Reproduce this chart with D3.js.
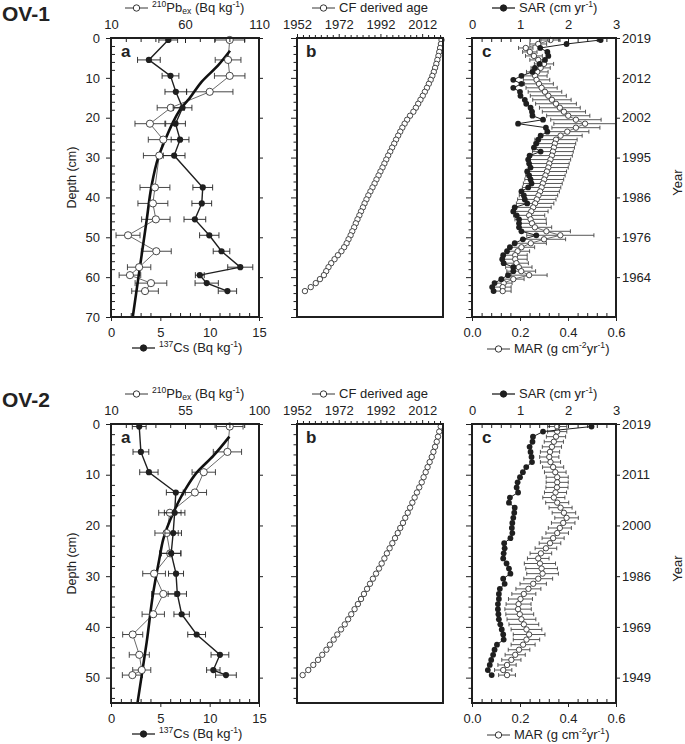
<!DOCTYPE html>
<html><head><meta charset="utf-8">
<script src="https://cdn.jsdelivr.net/npm/d3@7"></script>
<style>
body{margin:0;background:#fff;}
svg text{font-family:"Liberation Sans",Arial,sans-serif;}
</style></head><body>
<svg id="chart" width="685" height="744"></svg>
<script>
// ================= DATA =================
// ---- OV-1, panel a (core slices measured for radionuclides) ----
const ov1CoreDepth = [0.5,5.5,9.5,13.5,17.5,21.5,25.5,29.5,37.5,41.5,45.5,49.5,53.5,57.5,59.5,61.5,63.5];
const ov1Cs    = [5.8,3.84,6.03,6.57,7.25,6.54,7.0,6.4,9.3,9.2,8.5,9.96,11.2,13.1,9.0,9.7,11.8];
const ov1CsErr = [0.95,1.15,0.85,1.1,0.95,1.0,0.9,1.1,1.0,1.0,1.1,0.98,0.84,1.27,0.45,1.18,0.93];
const ov1Pb    = [90.2,89.1,90.2,76.7,50.4,36.3,45.3,42.6,39.7,38.3,40.3,21.5,40.6,29.0,22.8,37.0,33.0];
const ov1PbErr = [10.1,8.7,10.3,15.7,9.2,10.1,10.1,10.7,10.1,10.1,9.6,8.1,10.1,7.9,7.3,10.7,9.0];
const ov1FitDepth = [3.2,6.8,11,15.2,17.4,19.3,21.3,25.3,30,37.3,45.7,53.2,61.2,70];
const ov1FitPb    = [90.4,82.5,71.2,62.9,57.8,54.5,51.7,46.9,41.9,37.3,34.1,31.2,28.1,24.7];
// ---- OV-1, panels b & c (1-cm slices) ----
const ov1SliceDepth = [0.5,1.5,2.5,3.5,4.5,5.5,6.5,7.5,8.5,9.5,10.5,11.5,12.5,13.5,14.5,15.5,16.5,17.5,18.5,19.5,
  20.5,21.5,22.5,23.5,24.5,25.5,26.5,27.5,28.5,29.5,30.5,31.5,32.5,33.5,34.5,35.5,36.5,37.5,38.5,39.5,
  40.5,41.5,42.5,43.5,44.5,45.5,46.5,47.5,48.5,49.5,50.5,51.5,52.5,53.5,54.5,55.5,56.5,57.5,58.5,59.5,
  60.5,61.5,62.5,63.5];
const ov1Age = [2021.3,2021.0,2020.6,2020.2,2019.8,2019.3,2018.8,2018.2,2017.6,2016.9,
  2016.1,2015.2,2014.3,2013.3,2012.3,2011.2,2010.1,2009.0,2007.8,2006.2,
  2004.8,2003.6,2002.5,2001.5,2000.5,1999.5,1998.6,1997.6,1996.7,1995.7,
  1994.8,1993.9,1993.0,1992.0,1991.1,1990.1,1989.2,1988.2,1987.2,1986.2,
  1985.3,1984.4,1983.6,1982.7,1981.9,1981.0,1980.2,1979.4,1978.5,1977.7,
  1976.7,1975.8,1974.6,1973.3,1971.6,1970.0,1968.4,1967.1,1966.0,1964.9,
  1963.0,1961.0,1958.6,1955.8];
const ov1Sar = [2.68,1.97,1.42,1.57,1.59,1.52,1.41,1.31,1.26,1.03,
  0.86,1.03,0.86,1.00,1.01,1.10,1.13,1.22,1.25,1.26,
  1.48,0.96,1.54,1.57,1.43,1.38,1.34,1.29,1.43,1.20,
  1.17,1.19,1.22,1.15,1.19,1.22,1.24,1.17,1.03,1.08,
  1.10,1.15,0.89,0.86,0.93,0.98,0.98,0.98,1.03,1.34,
  1.06,0.89,0.79,0.73,0.65,0.63,0.66,0.86,0.86,0.75,
  0.61,0.47,0.42,0.45];
const ov1Mar = [0.327,0.276,0.224,0.241,0.258,0.276,0.300,0.286,0.272,0.263,
  0.269,0.279,0.290,0.304,0.318,0.333,0.350,0.366,0.383,0.401,
  0.433,0.471,0.433,0.397,0.369,0.350,0.345,0.341,0.337,0.333,
  0.327,0.322,0.318,0.312,0.306,0.301,0.295,0.290,0.284,0.277,
  0.270,0.263,0.255,0.247,0.238,0.244,0.250,0.262,0.310,0.368,
  0.300,0.245,0.206,0.190,0.180,0.180,0.185,0.195,0.205,0.238,
  0.172,0.132,0.128,0.128];
const ov1MarErr = [0.04,0.035,0.03,0.03,0.035,0.035,0.04,0.04,0.045,0.05,
  0.055,0.06,0.065,0.07,0.075,0.08,0.085,0.085,0.09,0.09,
  0.105,0.13,0.1,0.09,0.09,0.088,0.087,0.086,0.085,0.085,
  0.084,0.083,0.083,0.082,0.082,0.081,0.081,0.08,0.08,0.08,
  0.08,0.078,0.075,0.07,0.065,0.065,0.06,0.07,0.1,0.14,
  0.09,0.065,0.055,0.05,0.05,0.05,0.05,0.055,0.06,0.075,
  0.045,0.035,0.035,0.035];
const ov1YearLabels = ["2019","2012","2002","1995","1986","1976","1964"];

// ---- OV-2, panel a ----
const ov2CoreDepth = [0.5,5.5,9.5,13.5,17.5,21.5,25.5,29.5,33.5,37.5,41.5,45.5,48.5,49.5];
const ov2Cs    = [2.86,3.03,3.84,6.57,6.45,6.3,6.1,6.59,6.72,7.16,8.68,11.04,10.37,11.65];
const ov2CsErr = [0.7,0.8,0.93,0.96,1.04,0.84,0.98,0.76,0.93,0.78,0.9,0.9,0.68,1.05];
const ov2Pb    = [82.2,80.8,66.4,61.0,45.8,43.8,46.0,36.2,41.8,35.7,23.2,27.2,28.7,23.0];
const ov2PbErr = [8.1,8.6,7.1,7.1,6.8,7.1,6.5,6.9,7.1,6.8,6.1,6.1,5.5,6.1];
const ov2FitDepth = [2.5,6.3,9.6,12.9,17.5,22.7,26.6,33.2,43,49.5,55];
const ov2FitPb    = [82,72.2,62.1,55.2,47.9,41.8,39.4,35.7,31.7,28.7,26.1];
// ---- OV-2, panels b & c ----
const ov2SliceDepth = [0.5,1.5,2.5,3.5,4.5,5.5,6.5,7.5,8.5,9.5,10.5,11.5,12.5,13.5,14.5,15.5,16.5,17.5,18.5,19.5,
  20.5,21.5,22.5,23.5,24.5,25.5,26.5,27.5,28.5,29.5,30.5,31.5,32.5,33.5,34.5,35.5,36.5,37.5,38.5,39.5,
  40.5,41.5,42.5,43.5,44.5,45.5,46.5,47.5,48.5,49.5];
const ov2Age = [2020.9,2020.2,2019.6,2019.0,2018.2,2017.4,2016.6,2015.6,2014.6,2013.7,
  2012.7,2011.8,2010.6,2009.5,2008.4,2007.3,2006.2,2005.1,2003.9,2002.8,
  2001.5,2000.3,1999.0,1997.7,1996.4,1995.1,1993.9,1992.6,1991.3,1989.9,
  1988.4,1987.0,1985.6,1984.1,1982.7,1981.2,1979.6,1978.0,1976.5,1974.9,
  1973.1,1971.3,1969.6,1967.8,1966.1,1964.1,1962.1,1959.8,1957.4,1954.7];
const ov2Sar = [2.49,1.48,1.27,1.26,1.20,1.22,1.24,1.25,1.13,1.06,
  1.00,0.95,0.93,0.96,0.79,0.77,0.89,0.88,0.86,0.84,
  0.83,0.84,0.80,0.67,0.68,0.66,0.65,0.72,0.77,0.80,
  0.65,0.68,0.58,0.56,0.56,0.54,0.54,0.55,0.56,0.59,
  0.62,0.65,0.66,0.52,0.47,0.44,0.40,0.37,0.33,0.41];
const ov2Mar = [0.355,0.355,0.350,0.341,0.333,0.325,0.322,0.327,0.338,0.347,
  0.355,0.355,0.354,0.348,0.341,0.355,0.369,0.383,0.394,0.380,
  0.366,0.355,0.338,0.325,0.308,0.287,0.276,0.283,0.290,0.294,
  0.276,0.255,0.235,0.216,0.202,0.194,0.192,0.199,0.206,0.216,
  0.227,0.238,0.227,0.213,0.196,0.180,0.164,0.146,0.130,0.146];
const ov2MarErr = [0.04,0.04,0.04,0.04,0.04,0.04,0.04,0.042,0.044,0.045,
  0.046,0.046,0.046,0.046,0.046,0.048,0.048,0.049,0.049,0.049,
  0.048,0.047,0.046,0.045,0.045,0.045,0.045,0.065,0.066,0.066,
  0.06,0.055,0.052,0.05,0.05,0.052,0.055,0.058,0.06,0.062,
  0.064,0.066,0.055,0.05,0.045,0.042,0.04,0.038,0.036,0.035];
const ov2YearLabels = ["2019","2011","2000","1986","1969","1949"];

// ---- axis tick values ----
const csMajor = [0,5,10,15];
const ov1PbMajor = [10,60,110];
const ov2PbMajor = [10,55,100];
const ageMajor = [1952,1972,1992,2012];
const sarMajor = [0,1,2,3];
const marMajor = [0,0.2,0.4,0.6];

// ================= DRAWING =================
const svg = d3.select("#chart");
const INK = "#1f1f1f";
const FONT = '"Liberation Sans", Arial, sans-serif';
const PA = {x0:111, x1:259}, PB = {x0:297, x1:443}, PC = {x0:472, x1:616};

const sites = [
  {name:"OV-1", off:0, maxDepth:70, pbDomain:[10,110], pbMajor:ov1PbMajor, pbStep:10,
   coreDepth:ov1CoreDepth, cs:ov1Cs, csErr:ov1CsErr, pb:ov1Pb, pbErr:ov1PbErr,
   fitDepth:ov1FitDepth, fitPb:ov1FitPb, sliceDepth:ov1SliceDepth, age:ov1Age,
   sar:ov1Sar, mar:ov1Mar, marErr:ov1MarErr, years:ov1YearLabels},
  {name:"OV-2", off:386, maxDepth:55, pbDomain:[10,100], pbMajor:ov2PbMajor, pbStep:9,
   coreDepth:ov2CoreDepth, cs:ov2Cs, csErr:ov2CsErr, pb:ov2Pb, pbErr:ov2PbErr,
   fitDepth:ov2FitDepth, fitPb:ov2FitPb, sliceDepth:ov2SliceDepth, age:ov2Age,
   sar:ov2Sar, mar:ov2Mar, marErr:ov2MarErr, years:ov2YearLabels}
];

function axis(parent, axisFn, scale, tr, values, size, fmt, pad, fs) {
  const ax = axisFn(scale).tickValues(values).tickSizeInner(size).tickSizeOuter(0).tickPadding(pad || 3);
  ax.tickFormat(fmt || (() => ""));
  const g = parent.append("g").attr("transform", tr).call(ax);
  g.select(".domain").remove();
  g.attr("font-family", FONT).attr("font-size", fs || 13).attr("color", INK);
  g.selectAll(".tick line").attr("stroke-width", 1);
  g.selectAll(".tick text").attr("fill", "#222");
  return g;
}
function minors(lo, hi, step, majors) {
  const out = [];
  for (let v = lo; v <= hi + 1e-9; v += step) {
    if (!majors.some(m => Math.abs(m - v) < 1e-6)) out.push(+v.toFixed(6));
  }
  return out;
}
function richText(g, x, y, parts, fs, anchor) {
  const t = g.append("text").attr("x", x).attr("y", y).attr("font-size", fs)
    .attr("fill", "#222").attr("font-family", FONT).attr("text-anchor", anchor || "start");
  let shift = 0;
  parts.forEach(([s, type]) => {
    let target = type === "sup" ? -5 : type === "sub" ? 2 : 0;
    t.append("tspan").attr("dy", target - shift).attr("font-size", type ? fs * 0.66 : fs).text(s);
    shift = target;
  });
  return t;
}
function legend(g, x, y, filled, parts) {
  g.append("line").attr("x1", x).attr("x2", x + 23).attr("y1", y - 4).attr("y2", y - 4)
    .attr("stroke", INK).attr("stroke-width", filled ? 1.3 : 0.9);
  g.append("circle").attr("cx", x + 11.5).attr("cy", y - 4).attr("r", 3.2)
    .attr("fill", filled ? INK : "#fff").attr("stroke", INK).attr("stroke-width", 0.9);
  richText(g, x + 27, y, parts, 13);
}
function errBars(g, data, xs, ys, cap, color) {
  const eg = g.append("g").attr("stroke", color).attr("stroke-width", 0.9).attr("fill", "none");
  data.forEach(d => {
    const y = ys(d.y), a = xs(d.v - d.e), b = xs(d.v + d.e);
    eg.append("line").attr("x1", a).attr("x2", b).attr("y1", y).attr("y2", y);
    eg.append("line").attr("x1", a).attr("x2", a).attr("y1", y - cap).attr("y2", y + cap);
    eg.append("line").attr("x1", b).attr("x2", b).attr("y1", y - cap).attr("y2", y + cap);
  });
}

sites.forEach(s => {
  const o = s.off;
  const top = 38 + o, bottom = 317 + o;
  const g = svg.append("g");
  const y = d3.scaleLinear().domain([0, s.maxDepth]).range([top, bottom]);
  const xCs = d3.scaleLinear().domain([0, 15]).range([PA.x0, PA.x1]);
  const xPb = d3.scaleLinear().domain(s.pbDomain).range([PA.x0, PA.x1]);
  const xAge = d3.scaleLinear().domain([1952, 2022]).range([PB.x0, PB.x1]);
  const xSar = d3.scaleLinear().domain([0, 3]).range([PC.x0, PC.x1]);
  const xMar = d3.scaleLinear().domain([0, 0.6]).range([PC.x0, PC.x1]);
  const depthMajor = d3.range(0, s.maxDepth + 0.01, 10);
  const depthMinor = minors(0, s.maxDepth, 2, depthMajor);

  // Site title
  g.append("text").attr("x", 2).attr("y", 21 + o).attr("font-size", 21).attr("font-weight", "bold")
    .attr("font-family", FONT).attr("fill", "#222").text(s.name);

  // ---------- panel a ----------
  const core = s.coreDepth.map((d, i) => ({d, cs: s.cs[i], csE: s.csErr[i], pb: s.pb[i], pbE: s.pbErr[i]}));
  errBars(g, core.map(c => ({y: c.d, v: c.pb, e: c.pbE})), xPb, y, 3, "#333");
  g.append("path").datum(core).attr("fill", "none").attr("stroke", "#444").attr("stroke-width", 0.8)
    .attr("d", d3.line().x(c => xPb(c.pb)).y(c => y(c.d)));
  const fit = s.fitDepth.map((d, i) => ({d, v: s.fitPb[i]}));
  g.append("path").datum(fit).attr("fill", "none").attr("stroke", "#111").attr("stroke-width", 2.6)
    .attr("d", d3.line().x(c => xPb(c.v)).y(c => y(c.d)).curve(d3.curveMonotoneY));
  g.append("g").selectAll("circle").data(core).join("circle")
    .attr("cx", c => xPb(c.pb)).attr("cy", c => y(c.d)).attr("r", 3.6)
    .attr("fill", "#fff").attr("stroke", "#333").attr("stroke-width", 0.9);
  errBars(g, core.map(c => ({y: c.d, v: c.cs, e: c.csE})), xCs, y, 3, "#222");
  g.append("path").datum(core).attr("fill", "none").attr("stroke", INK).attr("stroke-width", 1.4)
    .attr("d", d3.line().x(c => xCs(c.cs)).y(c => y(c.d)));
  g.append("g").selectAll("circle").data(core).join("circle")
    .attr("cx", c => xCs(c.cs)).attr("cy", c => y(c.d)).attr("r", 3.1).attr("fill", INK);

  axis(g, d3.axisLeft, y, `translate(${PA.x0},0)`, depthMajor, 5, d3.format("d"), 6, 13);
  axis(g, d3.axisLeft, y, `translate(${PA.x0},0)`, depthMinor, -4);
  axis(g, d3.axisRight, y, `translate(${PA.x1},0)`, depthMajor, 4);
  axis(g, d3.axisBottom, xCs, `translate(0,${bottom})`, csMajor, 4, d3.format("d"), 7, 13);
  axis(g, d3.axisBottom, xCs, `translate(0,${bottom})`, minors(0, 15, 1, csMajor), -4);
  axis(g, d3.axisTop, xPb, `translate(0,${top})`, s.pbMajor, -5, d3.format("d"), 9, 13);
  axis(g, d3.axisTop, xPb, `translate(0,${top})`, minors(s.pbDomain[0], s.pbDomain[1], s.pbStep, s.pbMajor), -4);
  g.append("rect").attr("x", PA.x0).attr("y", top).attr("width", PA.x1 - PA.x0).attr("height", bottom - top)
    .attr("fill", "none").attr("stroke", INK).attr("stroke-width", 2);
  g.append("text").attr("x", 121).attr("y", 57 + o).attr("font-size", 17).attr("font-weight", "bold")
    .attr("font-family", FONT).attr("fill", "#222").text("a");
  g.append("text").attr("transform", `translate(76,${(top + bottom) / 2}) rotate(-90)`)
    .attr("text-anchor", "middle").attr("font-size", 12.5).attr("font-family", FONT).attr("fill", "#222")
    .text("Depth (cm)");
  legend(g, 125, 12 + o, false, [["210","sup"],["Pb",""],["ex","sub"],[" (Bq kg",""],["-1","sup"],[")",""]]);
  legend(g, 132, 352 + o, true, [["137","sup"],["Cs",""],[" (Bq kg",""],["-1","sup"],[")",""]]);

  // ---------- panel b ----------
  const slices = s.sliceDepth.map((d, i) => ({d, age: s.age[i], sar: s.sar[i], mar: s.mar[i], e: s.marErr[i]}));
  g.append("path").datum(slices).attr("fill", "none").attr("stroke", "#444").attr("stroke-width", 0.8)
    .attr("d", d3.line().x(c => xAge(c.age)).y(c => y(c.d)));
  g.append("g").selectAll("circle").data(slices).join("circle")
    .attr("cx", c => xAge(c.age)).attr("cy", c => y(c.d)).attr("r", 2.7)
    .attr("fill", "#fff").attr("stroke", "#333").attr("stroke-width", 0.9);
  axis(g, d3.axisLeft, y, `translate(${PB.x0},0)`, depthMajor, 6);
  axis(g, d3.axisLeft, y, `translate(${PB.x0},0)`, depthMinor, 3.5);
  axis(g, d3.axisTop, xAge, `translate(0,${top})`, ageMajor, 4, d3.format("d"), 5, 13);
  axis(g, d3.axisTop, xAge, `translate(0,${top})`, minors(1952, 2022, 20 / 7, ageMajor), 3);
  g.append("rect").attr("x", PB.x0).attr("y", top).attr("width", PB.x1 - PB.x0).attr("height", bottom - top)
    .attr("fill", "none").attr("stroke", INK).attr("stroke-width", 2);
  g.append("text").attr("x", 306).attr("y", 57 + o).attr("font-size", 17).attr("font-weight", "bold")
    .attr("font-family", FONT).attr("fill", "#222").text("b");
  legend(g, 312, 12 + o, false, [["CF derived age",""]]);

  // ---------- panel c ----------
  errBars(g, slices.map(c => ({y: c.d, v: c.mar, e: c.e})), xMar, y, 2, "#444");
  g.append("path").datum(slices).attr("fill", "none").attr("stroke", "#444").attr("stroke-width", 0.8)
    .attr("d", d3.line().x(c => xMar(c.mar)).y(c => y(c.d)));
  g.append("g").selectAll("circle").data(slices).join("circle")
    .attr("cx", c => xMar(c.mar)).attr("cy", c => y(c.d)).attr("r", 2.7)
    .attr("fill", "#fff").attr("stroke", "#333").attr("stroke-width", 0.9);
  g.append("path").datum(slices).attr("fill", "none").attr("stroke", INK).attr("stroke-width", 1)
    .attr("d", d3.line().x(c => xSar(c.sar)).y(c => y(c.d)));
  g.append("g").selectAll("circle").data(slices).join("circle")
    .attr("cx", c => xSar(c.sar)).attr("cy", c => y(c.d)).attr("r", 2.9).attr("fill", INK);

  const yearTicks = depthMajor.slice(0, s.years.length);
  axis(g, d3.axisLeft, y, `translate(${PC.x0},0)`, depthMajor, 6);
  axis(g, d3.axisLeft, y, `translate(${PC.x0},0)`, depthMinor, 3.5);
  axis(g, d3.axisRight, y, `translate(${PC.x1},0)`, yearTicks, 4, (d, i) => s.years[i], 2, 13);
  axis(g, d3.axisTop, xSar, `translate(0,${top})`, sarMajor, -4, d3.format("d"), 9, 13);
  axis(g, d3.axisTop, xSar, `translate(0,${top})`, minors(0, 3, 0.2, sarMajor), -4);
  axis(g, d3.axisBottom, xMar, `translate(0,${bottom})`, marMajor, 4, d3.format(".1f"), 7, 13);
  axis(g, d3.axisBottom, xMar, `translate(0,${bottom})`, minors(0, 0.6, 0.04, marMajor), -4);
  g.append("rect").attr("x", PC.x0).attr("y", top).attr("width", PC.x1 - PC.x0).attr("height", bottom - top)
    .attr("fill", "none").attr("stroke", INK).attr("stroke-width", 2);
  g.append("text").attr("x", 482).attr("y", 57 + o).attr("font-size", 17).attr("font-weight", "bold")
    .attr("font-family", FONT).attr("fill", "#222").text("c");
  g.append("text").attr("transform", `translate(682,${(top + bottom) / 2 + 5}) rotate(-90)`)
    .attr("text-anchor", "middle").attr("font-size", 13).attr("font-family", FONT).attr("fill", "#222")
    .text("Year");
  legend(g, 492, 12 + o, true, [["SAR (cm yr",""],["-1","sup"],[")",""]]);
  legend(g, 487, 353 + o, false, [["MAR (g cm",""],["-2","sup"],["yr",""],["-1","sup"],[")",""]]);
});
</script>
</body></html>
